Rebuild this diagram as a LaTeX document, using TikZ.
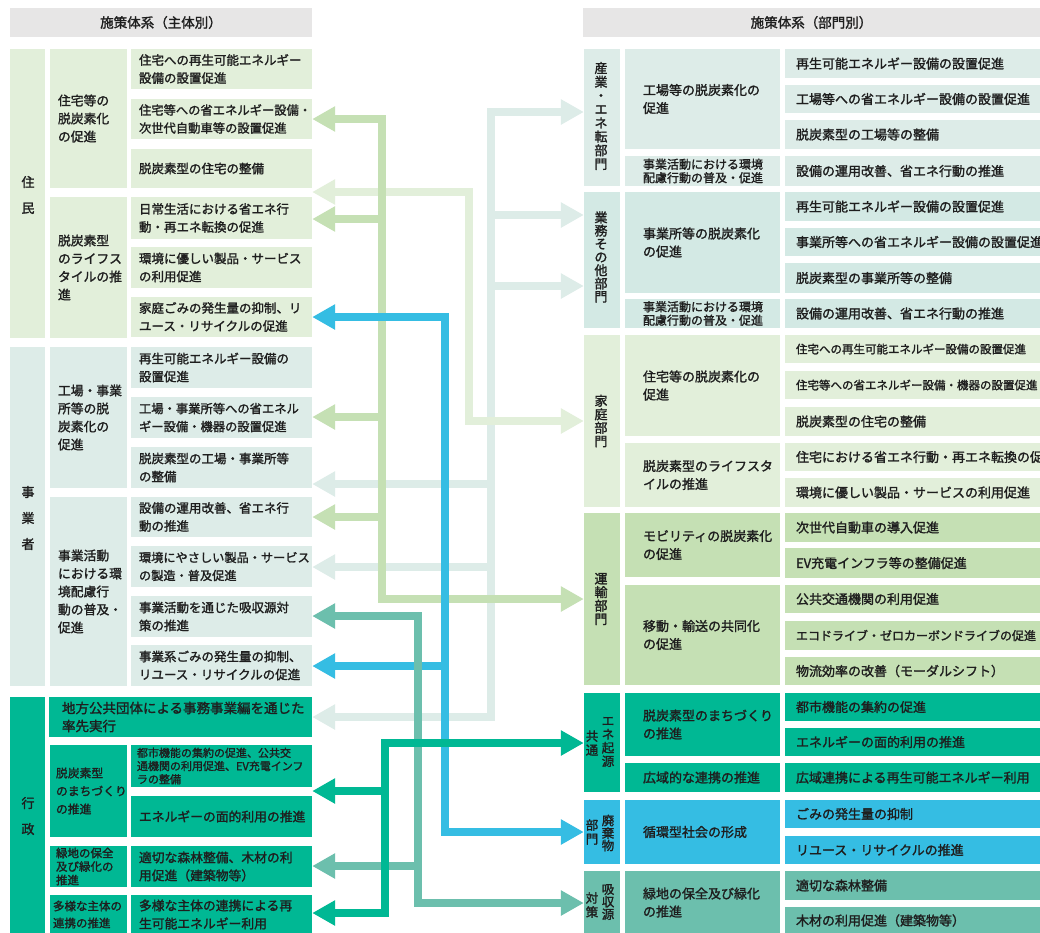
\documentclass[tikz,border=0pt]{standalone}
\usepackage{fontspec}
\setmainfont{Noto Sans CJK JP}[FakeBold=1.6]
\usetikzlibrary{arrows.meta}
\definecolor{hdr}{HTML}{E7E6E6}
\definecolor{cJ}{HTML}{E2EFDA}
\definecolor{cB}{HTML}{DDECE8}
\definecolor{cG}{HTML}{D3E9E4}
\definecolor{cU}{HTML}{C5E0B4}
\definecolor{cK}{HTML}{00B894}
\definecolor{cH}{HTML}{35BDE3}
\definecolor{cS}{HTML}{6CBFAD}
\definecolor{txt}{HTML}{1E1E1E}
\newcommand\bx[9]{%
 \pgfmathsetmacro\bxw{#4-#2}%
 \pgfmathsetmacro\bxh{#5-#3}%
 \pgfmathsetmacro\bxt{#4-#2-2*#7}%
 \node[box,fill=#6,minimum width=\bxw pt,minimum height=\bxh pt,text width=\bxt pt,inner xsep=#7pt,#8] (#1) at ({(#2+#4)/2},{(#3+#5)/2}) {#9};}
\tikzset{
 Tr/.tip={Triangle[length=23pt,width=24pt]},
 box/.style={draw=none,inner ysep=0pt,align=left,text=txt,font=\fontsize{12.8}{18}\selectfont},
 fsz/.style={font=\fontsize{#1}{18}\selectfont},
 vlab/.style={align=center,inner sep=0pt,text=txt},
 hdrbox/.style={fill=hdr,inner sep=0pt,text=txt,font=\fontsize{13.5}{16}\selectfont},
 arr/.style={line width=8pt}
}
\begin{document}
\begin{tikzpicture}[x=1pt,y=-1pt]
\useasboundingbox (0,0) rectangle (1040,932);
\fill[white] (0,0) rectangle (1040,932);
% headers
\node[hdrbox,minimum width=302pt,minimum height=29pt] (hL) at (161,22.5) {施策体系（主体別）};
\node[hdrbox,minimum width=457pt,minimum height=29pt] (hR) at (811.5,22.5) {施策体系（部門別）};
% ===== left: 住民
\bx{Ljumin}{10}{49}{45}{338}{cJ}{0}{}{}
\node[vlab,font=\fontsize{13}{26}\selectfont] (tJumin) at (28,195) {住\\民};
\bx{Lm1}{50}{49}{127}{188}{cJ}{8}{}{住宅等の\\脱炭素化\\の促進}
\bx{L1}{131}{49}{312}{89}{cJ}{8}{fsz=12.5}{住宅への再生可能エネルギー\\設備の設置促進}
\bx{L2}{131}{99}{312}{139}{cJ}{8}{fsz=12.3}{住宅等への省エネルギー設備・\\次世代自動車等の設置促進}
\bx{L3}{131}{149}{312}{188}{cJ}{8}{fsz=12.5}{脱炭素型の住宅の整備}
\bx{Lm2}{50}{197}{127}{338}{cJ}{8}{}{脱炭素型\\のライフス\\タイルの推\\進}
\bx{L4}{131}{197}{312}{239}{cJ}{8}{fsz=12.5}{日常生活における省エネ行\\動・再エネ転換の促進}
\bx{L5}{131}{247}{312}{288}{cJ}{8}{fsz=12.5}{環境に優しい製品・サービス\\の利用促進}
\bx{L6}{131}{297}{312}{337}{cJ}{8}{fsz=12.5}{家庭ごみの発生量の抑制、リ\\ユース・リサイクルの促進}
% ===== left: 事業者
\bx{Ljigyo}{10}{347}{45}{686}{cB}{0}{}{}
\node[vlab,font=\fontsize{13}{26}\selectfont] (tJigyo) at (28,518) {事\\業\\者};
\bx{Lm3}{50}{347}{127}{488}{cB}{8}{}{工場・事業\\所等の脱\\炭素化の\\促進}
\bx{L7}{131}{347}{312}{388}{cB}{8}{fsz=12.5}{再生可能エネルギー設備の\\設置促進}
\bx{L8}{131}{397}{312}{438}{cB}{8}{fsz=12.3}{工場・事業所等への省エネル\\ギー設備・機器の設置促進}
\bx{L9}{131}{447}{312}{488}{cB}{8}{fsz=12.5}{脱炭素型の工場・事業所等\\の整備}
\bx{Lm4}{50}{497}{127}{686}{cB}{8}{}{事業活動\\における環\\境配慮行\\動の普及・\\促進}
\bx{L10}{131}{497}{312}{537}{cB}{8}{fsz=12.5}{設備の運用改善、省エネ行\\動の推進}
\bx{L11}{131}{546}{312}{587}{cB}{8}{fsz=12.2}{環境にやさしい製品・サービス\\の製造・普及促進}
\bx{L12}{131}{596}{312}{637}{cB}{8}{fsz=12.5}{事業活動を通じた吸収源対\\策の推進}
\bx{L13}{131}{645}{312}{686}{cB}{8}{fsz=12.5}{事業系ごみの発生量の抑制、\\リユース・リサイクルの促進}
% ===== left: 行政
\bx{Lgyosei}{10}{697}{45}{934}{cK}{0}{}{}
\node[vlab,font=\fontsize{13}{26}\selectfont] (tGyosei) at (28,816) {行\\政};
\bx{G1}{49}{697}{312}{737}{cK}{13}{fsz=13.5}{地方公共団体による事務事業編を通じた\\率先実行}
\bx{Lm5}{50}{745}{127}{837}{cK}{6}{font=\fontsize{11.8}{18}\selectfont}{脱炭素型\\のまちづくり\\の推進}
\bx{G2}{131}{745}{312}{787}{cK}{6}{font=\fontsize{11}{13.2}\selectfont}{都市機能の集約の促進、公共交\\通機関の利用促進、EV充電インフ\\ラの整備}
\bx{G3}{131}{796}{312}{837}{cK}{8}{}{エネルギーの面的利用の推進}
\bx{Lm6}{50}{846}{127}{887}{cK}{6}{font=\fontsize{11.5}{13.5}\selectfont}{緑地の保全\\及び緑化の\\推進}
\bx{G4}{131}{846}{312}{887}{cK}{8}{}{適切な森林整備、木材の利\\用促進（建築物等）}
\bx{Lm7}{50}{895}{127}{934}{cK}{3}{font=\fontsize{11.5}{17}\selectfont}{多様な主体の\\連携の推進}
\bx{G5}{131}{895}{312}{934}{cK}{8}{}{多様な主体の連携による再\\生可能エネルギー利用}
% ===== right: 産業
\bx{sangyo}{584}{49}{620}{186}{cB}{0}{}{}
\node[vlab,font=\fontsize{13}{13.7}\selectfont] (tSangyo) at (601,116) {産\\業\\・\\エ\\ネ\\転\\部\\門};
\bx{Rm1}{625}{49}{780}{149}{cB}{18}{fsz=13}{工場等の脱炭素化の\\促進}
\bx{Rm2}{625}{156}{780}{186}{cB}{18}{font=\fontsize{12}{13.5}\selectfont}{事業活動における環境\\配慮行動の普及・促進}
\bx{R1}{785}{49}{1100}{78}{cB}{11}{fsz=13}{再生可能エネルギー設備の設置促進}
\bx{R2}{785}{85}{1100}{113}{cB}{11}{fsz=13}{工場等への省エネルギー設備の設置促進}
\bx{R3}{785}{120}{1100}{149}{cB}{11}{fsz=13}{脱炭素型の工場等の整備}
\bx{R4}{785}{156}{1100}{186}{cB}{11}{fsz=13}{設備の運用改善、省エネ行動の推進}
% ===== right: 業務
\bx{gyomu}{584}{192}{620}{328}{cG}{0}{}{}
\node[vlab,font=\fontsize{13}{13.2}\selectfont] (tGyomu) at (601,257) {業\\務\\そ\\の\\他\\部\\門};
\bx{Rm3}{625}{192}{780}{293}{cG}{18}{fsz=13}{事業所等の脱炭素化\\の促進}
\bx{Rm4}{625}{299}{780}{328}{cG}{18}{font=\fontsize{12}{13.5}\selectfont}{事業活動における環境\\配慮行動の普及・促進}
\bx{R5}{785}{192}{1100}{221}{cG}{11}{fsz=13}{再生可能エネルギー設備の設置促進}
\bx{R6}{785}{228}{1100}{256}{cG}{11}{fsz=13}{事業所等への省エネルギー設備の設置促進}
\bx{R7}{785}{263}{1100}{293}{cG}{11}{fsz=13}{脱炭素型の事業所等の整備}
\bx{R8}{785}{299}{1100}{328}{cG}{11}{fsz=13}{設備の運用改善、省エネ行動の推進}
% ===== right: 家庭
\bx{katei}{584}{335}{620}{507}{cJ}{0}{}{}
\node[vlab,font=\fontsize{13}{13.5}\selectfont] (tKatei) at (601,421) {家\\庭\\部\\門};
\bx{Rm5}{625}{335}{780}{436}{cJ}{18}{fsz=13}{住宅等の脱炭素化の\\促進}
\bx{Rm6}{625}{443}{780}{507}{cJ}{18}{fsz=13}{脱炭素型のライフスタ\\イルの推進}
\bx{R9}{785}{335}{1100}{363}{cJ}{11}{fsz=11.5}{住宅への再生可能エネルギー設備の設置促進}
\bx{R10}{785}{371}{1100}{399}{cJ}{11}{fsz=11.5}{住宅等への省エネルギー設備・機器の設置促進}
\bx{R11}{785}{407}{1100}{436}{cJ}{11}{fsz=13}{脱炭素型の住宅の整備}
\bx{R12}{785}{443}{1100}{471}{cJ}{11}{fsz=13}{住宅における省エネ行動・再エネ転換の促進}
\bx{R13}{785}{478}{1100}{507}{cJ}{11}{fsz=13}{環境に優しい製品・サービスの利用促進}
% ===== right: 運輸
\bx{unyu}{584}{513}{620}{685}{cU}{0}{}{}
\node[vlab,font=\fontsize{13}{13.5}\selectfont] (tUnyu) at (601,599) {運\\輸\\部\\門};
\bx{Rm7}{625}{513}{780}{577}{cU}{18}{fsz=13}{モビリティの脱炭素化\\の促進}
\bx{Rm8}{625}{585}{780}{685}{cU}{18}{fsz=13}{移動・輸送の共同化\\の促進}
\bx{R14}{785}{513}{1100}{542}{cU}{11}{fsz=13}{次世代自動車の導入促進}
\bx{R15}{785}{548}{1100}{578}{cU}{11}{fsz=13}{EV充電インフラ等の整備促進}
\bx{R16}{785}{585}{1100}{613}{cU}{11}{fsz=13}{公共交通機関の利用促進}
\bx{R17}{785}{621}{1100}{650}{cU}{11}{fsz=12}{エコドライブ・ゼロカーボンドライブの促進}
\bx{R18}{785}{657}{1100}{685}{cU}{11}{fsz=13}{物流効率の改善（モーダルシフト）}
% ===== right: 共通
\bx{kyotsu}{584}{693}{620}{792}{cK}{0}{}{}
\node[vlab,font=\fontsize{12.5}{13.5}\selectfont] (tKyo1) at (608,742) {エ\\ネ\\起\\源};
\node[vlab,font=\fontsize{12.5}{14}\selectfont] (tKyo2) at (592,743) {共\\通};
\bx{Rm9}{625}{693}{780}{756}{cK}{18}{fsz=13}{脱炭素型のまちづくり\\の推進}
\bx{Rm10}{625}{763}{780}{792}{cK}{18}{fsz=13}{広域的な連携の推進}
\bx{R19}{785}{693}{1100}{721}{cK}{11}{fsz=13}{都市機能の集約の促進}
\bx{R20}{785}{728}{1100}{756}{cK}{11}{fsz=13}{エネルギーの面的利用の推進}
\bx{R21}{785}{763}{1100}{792}{cK}{11}{fsz=13}{広域連携による再生可能エネルギー利用}
% ===== right: 廃棄物
\bx{haiki}{584}{800}{620}{864}{cH}{0}{}{}
\node[vlab,font=\fontsize{12.5}{12.5}\selectfont] (tHai1) at (608,833) {廃\\棄\\物};
\node[vlab,font=\fontsize{12.5}{14}\selectfont] (tHai2) at (592,832) {部\\門};
\bx{Rm11}{625}{800}{780}{864}{cH}{18}{fsz=13}{循環型社会の形成}
\bx{R22}{785}{800}{1100}{828}{cH}{11}{fsz=13}{ごみの発生量の抑制}
\bx{R23}{785}{836}{1100}{864}{cH}{11}{fsz=13}{リユース・リサイクルの推進}
% ===== right: 吸収源
\bx{kyushu}{584}{871}{620}{934}{cS}{0}{}{}
\node[vlab,font=\fontsize{12.5}{12.5}\selectfont] (tKyu1) at (608,902) {吸\\収\\源};
\node[vlab,font=\fontsize{12.5}{14}\selectfont] (tKyu2) at (592,905) {対\\策};
\bx{Rm12}{625}{871}{780}{934}{cS}{18}{fsz=13}{緑地の保全及び緑化\\の推進}
\bx{R24}{785}{871}{1100}{900}{cS}{11}{fsz=13}{適切な森林整備}
\bx{R25}{785}{907}{1100}{934}{cS}{11}{fsz=13}{木材の利用促進（建築物等）}
% ===== connectors
% pale teal (産業・業務)
\coordinate (a1) at (491,112);
\coordinate (a2) at (491,215);
\coordinate (a3) at (491,286);
\coordinate (a4) at (491,484);
\coordinate (a5) at (491,567);
\coordinate (a6) at (491,717);
\draw[arr,color=cB,Tr-Tr] (G1.east |- a6) -- (a6) -- (a1) -- (sangyo.west |- a1);
\draw[arr,color=cB,-Tr] (a2) -- (gyomu.west |- a2);
\draw[arr,color=cB,-Tr] (a3) -- (gyomu.west |- a3);
\draw[arr,color=cB,-Tr] (a4) -- (L9.east |- a4);
\draw[arr,color=cB,-Tr] (a5) -- (L11.east |- a5);
% pale green (家庭)
\coordinate (b1) at (469,192);
\coordinate (b2) at (469,421);
\draw[arr,color=cJ,Tr-Tr] (L3.east |- b1) -- (b1) -- (b2) -- (katei.west |- b2);
% light green (運輸)
\coordinate (c1) at (382,119);
\coordinate (c2) at (382,219);
\coordinate (c3) at (382,417);
\coordinate (c4) at (382,517);
\coordinate (c5) at (382,599);
\draw[arr,color=cU,Tr-Tr] (L2.east |- c1) -- (c1) -- (c5) -- (unyu.west |- c5);
\draw[arr,color=cU,-Tr] (c2) -- (L4.east |- c2);
\draw[arr,color=cU,-Tr] (c3) -- (L8.east |- c3);
\draw[arr,color=cU,-Tr] (c4) -- (L10.east |- c4);
% cyan (廃棄物)
\coordinate (d1) at (445,317);
\coordinate (d2) at (445,666);
\coordinate (d3) at (445,832);
\draw[arr,color=cH,Tr-Tr] (L6.east |- d1) -- (d1) -- (d3) -- (haiki.west |- d3);
\draw[arr,color=cH,-Tr] (d2) -- (L13.east |- d2);
% teal (吸収源)
\coordinate (e1) at (418,616);
\coordinate (e2) at (418,866);
\coordinate (e3) at (418,903);
\draw[arr,color=cS,Tr-Tr] (L12.east |- e1) -- (e1) -- (e3) -- (kyushu.west |- e3);
\draw[arr,color=cS,-Tr] (e2) -- (G4.east |- e2);
% green (共通)
\coordinate (f1) at (385,743);
\coordinate (f2) at (385,791);
\coordinate (f3) at (385,913);
\draw[arr,color=cK,Tr-Tr] (G5.east |- f3) -- (f3) -- (f1) -- (kyotsu.west |- f1);
\draw[arr,color=cK,-Tr] (f2) -- (G2.east |- f2);
\end{tikzpicture}
\end{document}
